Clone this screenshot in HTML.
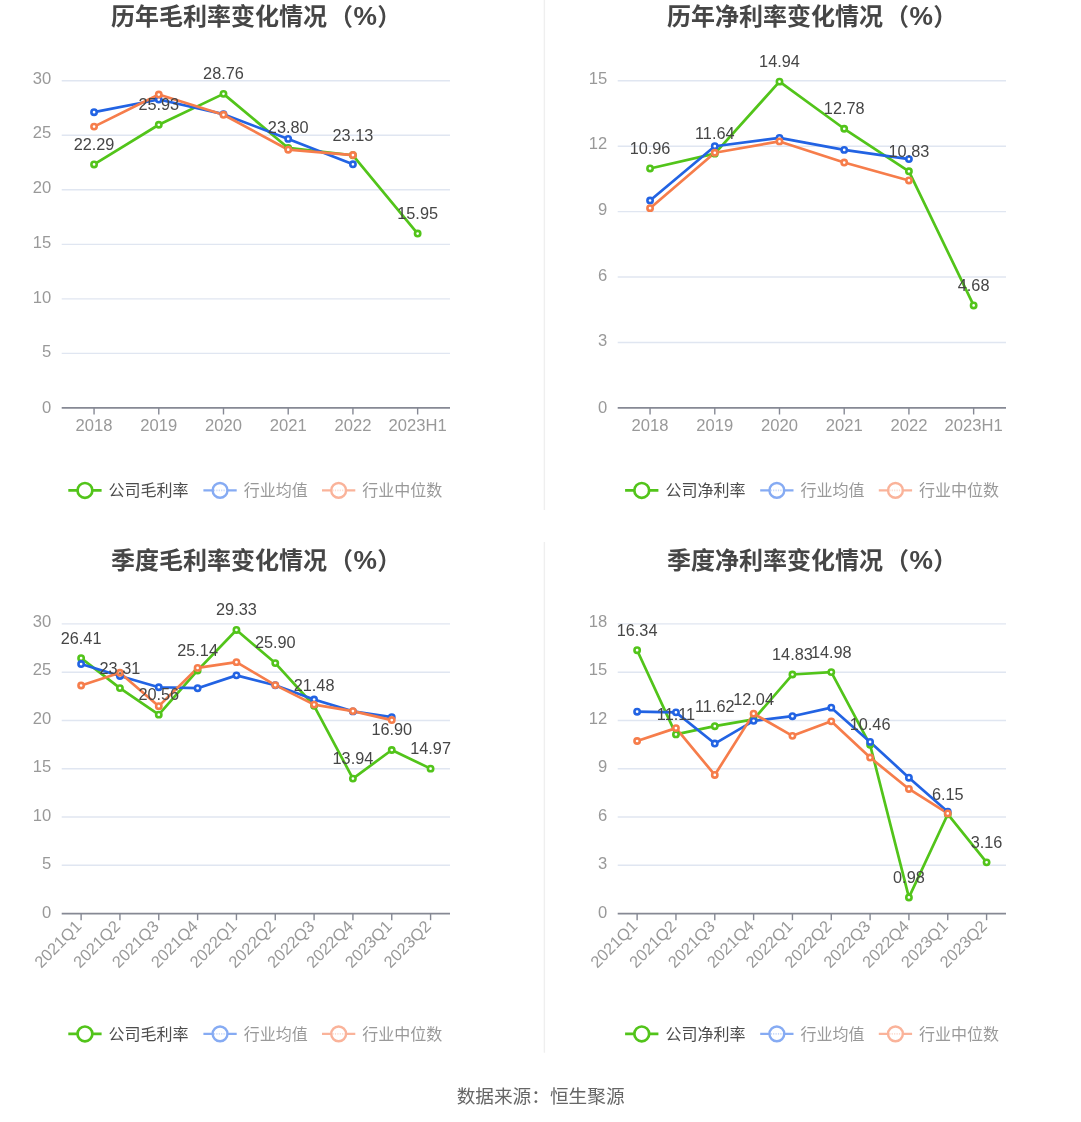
<!DOCTYPE html>
<html lang="zh-CN">
<head>
<meta charset="utf-8">
<title>毛利率与净利率变化情况</title>
<style>
html,body{margin:0;padding:0;background:#fff;}
body{width:1081px;height:1122px;overflow:hidden;font-family:"Liberation Sans", "Noto Sans CJK SC", sans-serif;}
svg{display:block;font-family:"Liberation Sans", "Noto Sans CJK SC", sans-serif;}
</style>
</head>
<body>
<svg width="1081" height="1122" viewBox="0 0 1081 1122">
<rect width="1081" height="1122" fill="#ffffff"/>
<text x="111.0" y="25.0" font-size="24" font-weight="bold" fill="#464646">历年毛利率变化情况<tspan dx="2.1">（</tspan><tspan dx="0.5" font-size="26.4">%</tspan><tspan dx="0.3" font-size="24">）</tspan></text>
<text x="51.3" y="412.60" text-anchor="end" font-size="16.6" fill="#999999">0</text>
<line x1="61.7" x2="450.0" y1="353.38" y2="353.38" stroke="#E0E6F1" stroke-width="1.4"/>
<text x="51.3" y="357.21" text-anchor="end" font-size="16.6" fill="#999999">5</text>
<line x1="61.7" x2="450.0" y1="298.85" y2="298.85" stroke="#E0E6F1" stroke-width="1.4"/>
<text x="51.3" y="302.52" text-anchor="end" font-size="16.6" fill="#999999">10</text>
<line x1="61.7" x2="450.0" y1="244.33" y2="244.33" stroke="#E0E6F1" stroke-width="1.4"/>
<text x="51.3" y="247.83" text-anchor="end" font-size="16.6" fill="#999999">15</text>
<line x1="61.7" x2="450.0" y1="189.80" y2="189.80" stroke="#E0E6F1" stroke-width="1.4"/>
<text x="51.3" y="193.13" text-anchor="end" font-size="16.6" fill="#999999">20</text>
<line x1="61.7" x2="450.0" y1="135.28" y2="135.28" stroke="#E0E6F1" stroke-width="1.4"/>
<text x="51.3" y="138.44" text-anchor="end" font-size="16.6" fill="#999999">25</text>
<line x1="61.7" x2="450.0" y1="80.75" y2="80.75" stroke="#E0E6F1" stroke-width="1.4"/>
<text x="51.3" y="83.75" text-anchor="end" font-size="16.6" fill="#999999">30</text>
<line x1="61.7" x2="450.0" y1="407.90" y2="407.90" stroke="#868994" stroke-width="1.9"/>
<line x1="94.06" x2="94.06" y1="407.90" y2="414.50" stroke="#868994" stroke-width="1.4"/>
<text x="94.06" y="430.90" text-anchor="middle" font-size="16.6" fill="#999999">2018</text>
<line x1="158.78" x2="158.78" y1="407.90" y2="414.50" stroke="#868994" stroke-width="1.4"/>
<text x="158.78" y="430.90" text-anchor="middle" font-size="16.6" fill="#999999">2019</text>
<line x1="223.49" x2="223.49" y1="407.90" y2="414.50" stroke="#868994" stroke-width="1.4"/>
<text x="223.49" y="430.90" text-anchor="middle" font-size="16.6" fill="#999999">2020</text>
<line x1="288.21" x2="288.21" y1="407.90" y2="414.50" stroke="#868994" stroke-width="1.4"/>
<text x="288.21" y="430.90" text-anchor="middle" font-size="16.6" fill="#999999">2021</text>
<line x1="352.93" x2="352.93" y1="407.90" y2="414.50" stroke="#868994" stroke-width="1.4"/>
<text x="352.93" y="430.90" text-anchor="middle" font-size="16.6" fill="#999999">2022</text>
<line x1="417.64" x2="417.64" y1="407.90" y2="414.50" stroke="#868994" stroke-width="1.4"/>
<text x="417.64" y="430.90" text-anchor="middle" font-size="16.6" fill="#999999">2023H1</text>
<polyline points="94.06,164.43 158.78,124.73 223.49,93.87 288.21,147.96 352.93,155.27 417.64,233.57" fill="none" stroke="#52C41A" stroke-width="2.7" stroke-linejoin="bevel"/>
<polyline points="94.06,112.19 158.78,99.54 223.49,114.16 288.21,138.91 352.93,164.32" fill="none" stroke="#2263E3" stroke-width="2.7" stroke-linejoin="bevel"/>
<polyline points="94.06,126.59 158.78,94.53 223.49,114.81 288.21,149.71 352.93,155.05" fill="none" stroke="#F67D4B" stroke-width="2.7" stroke-linejoin="bevel"/>
<circle cx="94.06" cy="164.43" r="2.65" fill="#fff" stroke="#52C41A" stroke-width="2.6"/>
<circle cx="158.78" cy="124.73" r="2.65" fill="#fff" stroke="#52C41A" stroke-width="2.6"/>
<circle cx="223.49" cy="93.87" r="2.65" fill="#fff" stroke="#52C41A" stroke-width="2.6"/>
<circle cx="288.21" cy="147.96" r="2.65" fill="#fff" stroke="#52C41A" stroke-width="2.6"/>
<circle cx="352.93" cy="155.27" r="2.65" fill="#fff" stroke="#52C41A" stroke-width="2.6"/>
<circle cx="417.64" cy="233.57" r="2.65" fill="#fff" stroke="#52C41A" stroke-width="2.6"/>
<circle cx="94.06" cy="112.19" r="2.65" fill="#fff" stroke="#2263E3" stroke-width="2.6"/>
<circle cx="158.78" cy="99.54" r="2.65" fill="#fff" stroke="#2263E3" stroke-width="2.6"/>
<circle cx="223.49" cy="114.16" r="2.65" fill="#fff" stroke="#2263E3" stroke-width="2.6"/>
<circle cx="288.21" cy="138.91" r="2.65" fill="#fff" stroke="#2263E3" stroke-width="2.6"/>
<circle cx="352.93" cy="164.32" r="2.65" fill="#fff" stroke="#2263E3" stroke-width="2.6"/>
<circle cx="94.06" cy="126.59" r="2.65" fill="#fff" stroke="#F67D4B" stroke-width="2.6"/>
<circle cx="158.78" cy="94.53" r="2.65" fill="#fff" stroke="#F67D4B" stroke-width="2.6"/>
<circle cx="223.49" cy="114.81" r="2.65" fill="#fff" stroke="#F67D4B" stroke-width="2.6"/>
<circle cx="288.21" cy="149.71" r="2.65" fill="#fff" stroke="#F67D4B" stroke-width="2.6"/>
<circle cx="352.93" cy="155.05" r="2.65" fill="#fff" stroke="#F67D4B" stroke-width="2.6"/>
<text x="94.06" y="149.83" text-anchor="middle" font-size="16.3" fill="#464646">22.29</text>
<text x="158.78" y="110.13" text-anchor="middle" font-size="16.3" fill="#464646">25.93</text>
<text x="223.49" y="79.27" text-anchor="middle" font-size="16.3" fill="#464646">28.76</text>
<text x="288.21" y="133.36" text-anchor="middle" font-size="16.3" fill="#464646">23.80</text>
<text x="352.93" y="140.67" text-anchor="middle" font-size="16.3" fill="#464646">23.13</text>
<text x="417.64" y="218.97" text-anchor="middle" font-size="16.3" fill="#464646">15.95</text>
<line x1="68.3" x2="101.6" y1="490.4" y2="490.4" stroke="#52C41A" stroke-width="2.7"/>
<circle cx="84.95" cy="490.4" r="7.4" fill="#fff" stroke="#52C41A" stroke-width="2.7"/>
<text x="108.6" y="496.1" font-size="16" fill="#4d4d4d">公司毛利率</text>
<line x1="203.4" x2="236.7" y1="490.4" y2="490.4" stroke="#86ABF3" stroke-width="2.4"/>
<circle cx="220.05" cy="490.4" r="7.4" fill="#fff" stroke="#86ABF3" stroke-width="2.4"/>
<line x1="213.9" x2="226.2" y1="490.4" y2="490.4" stroke="#86ABF3" stroke-width="1.6" stroke-dasharray="1.2 1.2" opacity="0.45"/>
<text x="243.7" y="496.1" font-size="16" fill="#999999">行业均值</text>
<line x1="322.0" x2="355.3" y1="490.4" y2="490.4" stroke="#FAB39A" stroke-width="2.4"/>
<circle cx="338.65" cy="490.4" r="7.4" fill="#fff" stroke="#FAB39A" stroke-width="2.4"/>
<line x1="332.5" x2="344.8" y1="490.4" y2="490.4" stroke="#FAB39A" stroke-width="1.6" stroke-dasharray="1.2 1.2" opacity="0.45"/>
<text x="362.2" y="496.1" font-size="16" fill="#999999">行业中位数</text>
<text x="667.0" y="25.0" font-size="24" font-weight="bold" fill="#464646">历年净利率变化情况<tspan dx="2.1">（</tspan><tspan dx="0.5" font-size="26.4">%</tspan><tspan dx="0.3" font-size="24">）</tspan></text>
<text x="607.3" y="412.60" text-anchor="end" font-size="16.6" fill="#999999">0</text>
<line x1="617.7" x2="1006.0" y1="342.47" y2="342.47" stroke="#E0E6F1" stroke-width="1.4"/>
<text x="607.3" y="346.27" text-anchor="end" font-size="16.6" fill="#999999">3</text>
<line x1="617.7" x2="1006.0" y1="277.04" y2="277.04" stroke="#E0E6F1" stroke-width="1.4"/>
<text x="607.3" y="280.64" text-anchor="end" font-size="16.6" fill="#999999">6</text>
<line x1="617.7" x2="1006.0" y1="211.61" y2="211.61" stroke="#E0E6F1" stroke-width="1.4"/>
<text x="607.3" y="215.01" text-anchor="end" font-size="16.6" fill="#999999">9</text>
<line x1="617.7" x2="1006.0" y1="146.18" y2="146.18" stroke="#E0E6F1" stroke-width="1.4"/>
<text x="607.3" y="149.38" text-anchor="end" font-size="16.6" fill="#999999">12</text>
<line x1="617.7" x2="1006.0" y1="80.75" y2="80.75" stroke="#E0E6F1" stroke-width="1.4"/>
<text x="607.3" y="83.75" text-anchor="end" font-size="16.6" fill="#999999">15</text>
<line x1="617.7" x2="1006.0" y1="407.90" y2="407.90" stroke="#868994" stroke-width="1.9"/>
<line x1="650.06" x2="650.06" y1="407.90" y2="414.50" stroke="#868994" stroke-width="1.4"/>
<text x="650.06" y="430.90" text-anchor="middle" font-size="16.6" fill="#999999">2018</text>
<line x1="714.78" x2="714.78" y1="407.90" y2="414.50" stroke="#868994" stroke-width="1.4"/>
<text x="714.78" y="430.90" text-anchor="middle" font-size="16.6" fill="#999999">2019</text>
<line x1="779.49" x2="779.49" y1="407.90" y2="414.50" stroke="#868994" stroke-width="1.4"/>
<text x="779.49" y="430.90" text-anchor="middle" font-size="16.6" fill="#999999">2020</text>
<line x1="844.21" x2="844.21" y1="407.90" y2="414.50" stroke="#868994" stroke-width="1.4"/>
<text x="844.21" y="430.90" text-anchor="middle" font-size="16.6" fill="#999999">2021</text>
<line x1="908.92" x2="908.92" y1="407.90" y2="414.50" stroke="#868994" stroke-width="1.4"/>
<text x="908.92" y="430.90" text-anchor="middle" font-size="16.6" fill="#999999">2022</text>
<line x1="973.64" x2="973.64" y1="407.90" y2="414.50" stroke="#868994" stroke-width="1.4"/>
<text x="973.64" y="430.90" text-anchor="middle" font-size="16.6" fill="#999999">2023H1</text>
<polyline points="650.06,168.46 714.78,153.63 779.49,81.66 844.21,128.77 908.92,171.30 973.64,305.43" fill="none" stroke="#52C41A" stroke-width="2.7" stroke-linejoin="bevel"/>
<polyline points="650.06,200.52 714.78,146.22 779.49,137.93 844.21,149.92 908.92,159.08" fill="none" stroke="#2263E3" stroke-width="2.7" stroke-linejoin="bevel"/>
<polyline points="650.06,208.16 714.78,152.76 779.49,141.42 844.21,162.57 908.92,180.46" fill="none" stroke="#F67D4B" stroke-width="2.7" stroke-linejoin="bevel"/>
<circle cx="650.06" cy="168.46" r="2.65" fill="#fff" stroke="#52C41A" stroke-width="2.6"/>
<circle cx="714.78" cy="153.63" r="2.65" fill="#fff" stroke="#52C41A" stroke-width="2.6"/>
<circle cx="779.49" cy="81.66" r="2.65" fill="#fff" stroke="#52C41A" stroke-width="2.6"/>
<circle cx="844.21" cy="128.77" r="2.65" fill="#fff" stroke="#52C41A" stroke-width="2.6"/>
<circle cx="908.92" cy="171.30" r="2.65" fill="#fff" stroke="#52C41A" stroke-width="2.6"/>
<circle cx="973.64" cy="305.43" r="2.65" fill="#fff" stroke="#52C41A" stroke-width="2.6"/>
<circle cx="650.06" cy="200.52" r="2.65" fill="#fff" stroke="#2263E3" stroke-width="2.6"/>
<circle cx="714.78" cy="146.22" r="2.65" fill="#fff" stroke="#2263E3" stroke-width="2.6"/>
<circle cx="779.49" cy="137.93" r="2.65" fill="#fff" stroke="#2263E3" stroke-width="2.6"/>
<circle cx="844.21" cy="149.92" r="2.65" fill="#fff" stroke="#2263E3" stroke-width="2.6"/>
<circle cx="908.92" cy="159.08" r="2.65" fill="#fff" stroke="#2263E3" stroke-width="2.6"/>
<circle cx="650.06" cy="208.16" r="2.65" fill="#fff" stroke="#F67D4B" stroke-width="2.6"/>
<circle cx="714.78" cy="152.76" r="2.65" fill="#fff" stroke="#F67D4B" stroke-width="2.6"/>
<circle cx="779.49" cy="141.42" r="2.65" fill="#fff" stroke="#F67D4B" stroke-width="2.6"/>
<circle cx="844.21" cy="162.57" r="2.65" fill="#fff" stroke="#F67D4B" stroke-width="2.6"/>
<circle cx="908.92" cy="180.46" r="2.65" fill="#fff" stroke="#F67D4B" stroke-width="2.6"/>
<text x="650.06" y="153.86" text-anchor="middle" font-size="16.3" fill="#464646">10.96</text>
<text x="714.78" y="139.03" text-anchor="middle" font-size="16.3" fill="#464646">11.64</text>
<text x="779.49" y="67.06" text-anchor="middle" font-size="16.3" fill="#464646">14.94</text>
<text x="844.21" y="114.17" text-anchor="middle" font-size="16.3" fill="#464646">12.78</text>
<text x="908.92" y="156.70" text-anchor="middle" font-size="16.3" fill="#464646">10.83</text>
<text x="973.64" y="290.83" text-anchor="middle" font-size="16.3" fill="#464646">4.68</text>
<line x1="625.1" x2="658.4" y1="490.4" y2="490.4" stroke="#52C41A" stroke-width="2.7"/>
<circle cx="641.75" cy="490.4" r="7.4" fill="#fff" stroke="#52C41A" stroke-width="2.7"/>
<text x="665.4" y="496.1" font-size="16" fill="#4d4d4d">公司净利率</text>
<line x1="760.2" x2="793.5" y1="490.4" y2="490.4" stroke="#86ABF3" stroke-width="2.4"/>
<circle cx="776.85" cy="490.4" r="7.4" fill="#fff" stroke="#86ABF3" stroke-width="2.4"/>
<line x1="770.7" x2="783.0" y1="490.4" y2="490.4" stroke="#86ABF3" stroke-width="1.6" stroke-dasharray="1.2 1.2" opacity="0.45"/>
<text x="800.5" y="496.1" font-size="16" fill="#999999">行业均值</text>
<line x1="878.8" x2="912.1" y1="490.4" y2="490.4" stroke="#FAB39A" stroke-width="2.4"/>
<circle cx="895.45" cy="490.4" r="7.4" fill="#fff" stroke="#FAB39A" stroke-width="2.4"/>
<line x1="889.3" x2="901.6" y1="490.4" y2="490.4" stroke="#FAB39A" stroke-width="1.6" stroke-dasharray="1.2 1.2" opacity="0.45"/>
<text x="919.0" y="496.1" font-size="16" fill="#999999">行业中位数</text>
<text x="111.0" y="568.5" font-size="24" font-weight="bold" fill="#464646">季度毛利率变化情况<tspan dx="2.1">（</tspan><tspan dx="0.5" font-size="26.4">%</tspan><tspan dx="0.3" font-size="24">）</tspan></text>
<text x="51.3" y="918.30" text-anchor="end" font-size="16.6" fill="#999999">0</text>
<line x1="61.7" x2="450.0" y1="865.32" y2="865.32" stroke="#E0E6F1" stroke-width="1.4"/>
<text x="51.3" y="869.15" text-anchor="end" font-size="16.6" fill="#999999">5</text>
<line x1="61.7" x2="450.0" y1="817.03" y2="817.03" stroke="#E0E6F1" stroke-width="1.4"/>
<text x="51.3" y="820.70" text-anchor="end" font-size="16.6" fill="#999999">10</text>
<line x1="61.7" x2="450.0" y1="768.75" y2="768.75" stroke="#E0E6F1" stroke-width="1.4"/>
<text x="51.3" y="772.25" text-anchor="end" font-size="16.6" fill="#999999">15</text>
<line x1="61.7" x2="450.0" y1="720.47" y2="720.47" stroke="#E0E6F1" stroke-width="1.4"/>
<text x="51.3" y="723.80" text-anchor="end" font-size="16.6" fill="#999999">20</text>
<line x1="61.7" x2="450.0" y1="672.18" y2="672.18" stroke="#E0E6F1" stroke-width="1.4"/>
<text x="51.3" y="675.35" text-anchor="end" font-size="16.6" fill="#999999">25</text>
<line x1="61.7" x2="450.0" y1="623.90" y2="623.90" stroke="#E0E6F1" stroke-width="1.4"/>
<text x="51.3" y="626.90" text-anchor="end" font-size="16.6" fill="#999999">30</text>
<line x1="61.7" x2="450.0" y1="913.60" y2="913.60" stroke="#868994" stroke-width="1.9"/>
<line x1="81.12" x2="81.12" y1="913.60" y2="920.20" stroke="#868994" stroke-width="1.4"/>
<text transform="translate(79.57,924.60) rotate(-45)" text-anchor="end" font-size="16.4" fill="#999999" dy="4.0">2021Q1</text>
<line x1="119.94" x2="119.94" y1="913.60" y2="920.20" stroke="#868994" stroke-width="1.4"/>
<text transform="translate(118.39,924.60) rotate(-45)" text-anchor="end" font-size="16.4" fill="#999999" dy="4.0">2021Q2</text>
<line x1="158.77" x2="158.77" y1="913.60" y2="920.20" stroke="#868994" stroke-width="1.4"/>
<text transform="translate(157.22,924.60) rotate(-45)" text-anchor="end" font-size="16.4" fill="#999999" dy="4.0">2021Q3</text>
<line x1="197.61" x2="197.61" y1="913.60" y2="920.20" stroke="#868994" stroke-width="1.4"/>
<text transform="translate(196.06,924.60) rotate(-45)" text-anchor="end" font-size="16.4" fill="#999999" dy="4.0">2021Q4</text>
<line x1="236.44" x2="236.44" y1="913.60" y2="920.20" stroke="#868994" stroke-width="1.4"/>
<text transform="translate(234.88,924.60) rotate(-45)" text-anchor="end" font-size="16.4" fill="#999999" dy="4.0">2022Q1</text>
<line x1="275.26" x2="275.26" y1="913.60" y2="920.20" stroke="#868994" stroke-width="1.4"/>
<text transform="translate(273.71,924.60) rotate(-45)" text-anchor="end" font-size="16.4" fill="#999999" dy="4.0">2022Q2</text>
<line x1="314.09" x2="314.09" y1="913.60" y2="920.20" stroke="#868994" stroke-width="1.4"/>
<text transform="translate(312.54,924.60) rotate(-45)" text-anchor="end" font-size="16.4" fill="#999999" dy="4.0">2022Q3</text>
<line x1="352.92" x2="352.92" y1="913.60" y2="920.20" stroke="#868994" stroke-width="1.4"/>
<text transform="translate(351.37,924.60) rotate(-45)" text-anchor="end" font-size="16.4" fill="#999999" dy="4.0">2022Q4</text>
<line x1="391.75" x2="391.75" y1="913.60" y2="920.20" stroke="#868994" stroke-width="1.4"/>
<text transform="translate(390.20,924.60) rotate(-45)" text-anchor="end" font-size="16.4" fill="#999999" dy="4.0">2023Q1</text>
<line x1="430.58" x2="430.58" y1="913.60" y2="920.20" stroke="#868994" stroke-width="1.4"/>
<text transform="translate(429.03,924.60) rotate(-45)" text-anchor="end" font-size="16.4" fill="#999999" dy="4.0">2023Q2</text>
<polyline points="81.12,658.17 119.94,688.10 158.77,714.66 197.61,670.43 236.44,629.97 275.26,663.09 314.09,705.77 352.92,778.59 391.75,750.00 430.58,768.64" fill="none" stroke="#52C41A" stroke-width="2.7" stroke-linejoin="bevel"/>
<polyline points="81.12,664.06 119.94,675.94 158.77,687.23 197.61,688.20 236.44,675.36 275.26,685.30 314.09,699.50 352.92,711.38 391.75,717.17" fill="none" stroke="#2263E3" stroke-width="2.7" stroke-linejoin="bevel"/>
<polyline points="81.12,685.50 119.94,672.75 158.77,706.16 197.61,667.92 236.44,662.13 275.26,685.11 314.09,704.62 352.92,711.09 391.75,720.07" fill="none" stroke="#F67D4B" stroke-width="2.7" stroke-linejoin="bevel"/>
<circle cx="81.12" cy="658.17" r="2.65" fill="#fff" stroke="#52C41A" stroke-width="2.6"/>
<circle cx="119.94" cy="688.10" r="2.65" fill="#fff" stroke="#52C41A" stroke-width="2.6"/>
<circle cx="158.77" cy="714.66" r="2.65" fill="#fff" stroke="#52C41A" stroke-width="2.6"/>
<circle cx="197.61" cy="670.43" r="2.65" fill="#fff" stroke="#52C41A" stroke-width="2.6"/>
<circle cx="236.44" cy="629.97" r="2.65" fill="#fff" stroke="#52C41A" stroke-width="2.6"/>
<circle cx="275.26" cy="663.09" r="2.65" fill="#fff" stroke="#52C41A" stroke-width="2.6"/>
<circle cx="314.09" cy="705.77" r="2.65" fill="#fff" stroke="#52C41A" stroke-width="2.6"/>
<circle cx="352.92" cy="778.59" r="2.65" fill="#fff" stroke="#52C41A" stroke-width="2.6"/>
<circle cx="391.75" cy="750.00" r="2.65" fill="#fff" stroke="#52C41A" stroke-width="2.6"/>
<circle cx="430.58" cy="768.64" r="2.65" fill="#fff" stroke="#52C41A" stroke-width="2.6"/>
<circle cx="81.12" cy="664.06" r="2.65" fill="#fff" stroke="#2263E3" stroke-width="2.6"/>
<circle cx="119.94" cy="675.94" r="2.65" fill="#fff" stroke="#2263E3" stroke-width="2.6"/>
<circle cx="158.77" cy="687.23" r="2.65" fill="#fff" stroke="#2263E3" stroke-width="2.6"/>
<circle cx="197.61" cy="688.20" r="2.65" fill="#fff" stroke="#2263E3" stroke-width="2.6"/>
<circle cx="236.44" cy="675.36" r="2.65" fill="#fff" stroke="#2263E3" stroke-width="2.6"/>
<circle cx="275.26" cy="685.30" r="2.65" fill="#fff" stroke="#2263E3" stroke-width="2.6"/>
<circle cx="314.09" cy="699.50" r="2.65" fill="#fff" stroke="#2263E3" stroke-width="2.6"/>
<circle cx="352.92" cy="711.38" r="2.65" fill="#fff" stroke="#2263E3" stroke-width="2.6"/>
<circle cx="391.75" cy="717.17" r="2.65" fill="#fff" stroke="#2263E3" stroke-width="2.6"/>
<circle cx="81.12" cy="685.50" r="2.65" fill="#fff" stroke="#F67D4B" stroke-width="2.6"/>
<circle cx="119.94" cy="672.75" r="2.65" fill="#fff" stroke="#F67D4B" stroke-width="2.6"/>
<circle cx="158.77" cy="706.16" r="2.65" fill="#fff" stroke="#F67D4B" stroke-width="2.6"/>
<circle cx="197.61" cy="667.92" r="2.65" fill="#fff" stroke="#F67D4B" stroke-width="2.6"/>
<circle cx="236.44" cy="662.13" r="2.65" fill="#fff" stroke="#F67D4B" stroke-width="2.6"/>
<circle cx="275.26" cy="685.11" r="2.65" fill="#fff" stroke="#F67D4B" stroke-width="2.6"/>
<circle cx="314.09" cy="704.62" r="2.65" fill="#fff" stroke="#F67D4B" stroke-width="2.6"/>
<circle cx="352.92" cy="711.09" r="2.65" fill="#fff" stroke="#F67D4B" stroke-width="2.6"/>
<circle cx="391.75" cy="720.07" r="2.65" fill="#fff" stroke="#F67D4B" stroke-width="2.6"/>
<text x="81.12" y="643.57" text-anchor="middle" font-size="16.3" fill="#464646">26.41</text>
<text x="119.94" y="673.50" text-anchor="middle" font-size="16.3" fill="#464646">23.31</text>
<text x="158.77" y="700.06" text-anchor="middle" font-size="16.3" fill="#464646">20.56</text>
<text x="197.61" y="655.83" text-anchor="middle" font-size="16.3" fill="#464646">25.14</text>
<text x="236.44" y="615.37" text-anchor="middle" font-size="16.3" fill="#464646">29.33</text>
<text x="275.26" y="648.49" text-anchor="middle" font-size="16.3" fill="#464646">25.90</text>
<text x="314.09" y="691.17" text-anchor="middle" font-size="16.3" fill="#464646">21.48</text>
<text x="352.92" y="763.99" text-anchor="middle" font-size="16.3" fill="#464646">13.94</text>
<text x="391.75" y="735.40" text-anchor="middle" font-size="16.3" fill="#464646">16.90</text>
<text x="430.58" y="754.04" text-anchor="middle" font-size="16.3" fill="#464646">14.97</text>
<line x1="68.3" x2="101.6" y1="1033.9" y2="1033.9" stroke="#52C41A" stroke-width="2.7"/>
<circle cx="84.95" cy="1033.9" r="7.4" fill="#fff" stroke="#52C41A" stroke-width="2.7"/>
<text x="108.6" y="1039.6" font-size="16" fill="#4d4d4d">公司毛利率</text>
<line x1="203.4" x2="236.7" y1="1033.9" y2="1033.9" stroke="#86ABF3" stroke-width="2.4"/>
<circle cx="220.05" cy="1033.9" r="7.4" fill="#fff" stroke="#86ABF3" stroke-width="2.4"/>
<line x1="213.9" x2="226.2" y1="1033.9" y2="1033.9" stroke="#86ABF3" stroke-width="1.6" stroke-dasharray="1.2 1.2" opacity="0.45"/>
<text x="243.7" y="1039.6" font-size="16" fill="#999999">行业均值</text>
<line x1="322.0" x2="355.3" y1="1033.9" y2="1033.9" stroke="#FAB39A" stroke-width="2.4"/>
<circle cx="338.65" cy="1033.9" r="7.4" fill="#fff" stroke="#FAB39A" stroke-width="2.4"/>
<line x1="332.5" x2="344.8" y1="1033.9" y2="1033.9" stroke="#FAB39A" stroke-width="1.6" stroke-dasharray="1.2 1.2" opacity="0.45"/>
<text x="362.2" y="1039.6" font-size="16" fill="#999999">行业中位数</text>
<text x="667.0" y="568.5" font-size="24" font-weight="bold" fill="#464646">季度净利率变化情况<tspan dx="2.1">（</tspan><tspan dx="0.5" font-size="26.4">%</tspan><tspan dx="0.3" font-size="24">）</tspan></text>
<text x="607.3" y="918.30" text-anchor="end" font-size="16.6" fill="#999999">0</text>
<line x1="617.7" x2="1006.0" y1="865.32" y2="865.32" stroke="#E0E6F1" stroke-width="1.4"/>
<text x="607.3" y="869.15" text-anchor="end" font-size="16.6" fill="#999999">3</text>
<line x1="617.7" x2="1006.0" y1="817.03" y2="817.03" stroke="#E0E6F1" stroke-width="1.4"/>
<text x="607.3" y="820.70" text-anchor="end" font-size="16.6" fill="#999999">6</text>
<line x1="617.7" x2="1006.0" y1="768.75" y2="768.75" stroke="#E0E6F1" stroke-width="1.4"/>
<text x="607.3" y="772.25" text-anchor="end" font-size="16.6" fill="#999999">9</text>
<line x1="617.7" x2="1006.0" y1="720.47" y2="720.47" stroke="#E0E6F1" stroke-width="1.4"/>
<text x="607.3" y="723.80" text-anchor="end" font-size="16.6" fill="#999999">12</text>
<line x1="617.7" x2="1006.0" y1="672.18" y2="672.18" stroke="#E0E6F1" stroke-width="1.4"/>
<text x="607.3" y="675.35" text-anchor="end" font-size="16.6" fill="#999999">15</text>
<line x1="617.7" x2="1006.0" y1="623.90" y2="623.90" stroke="#E0E6F1" stroke-width="1.4"/>
<text x="607.3" y="626.90" text-anchor="end" font-size="16.6" fill="#999999">18</text>
<line x1="617.7" x2="1006.0" y1="913.60" y2="913.60" stroke="#868994" stroke-width="1.9"/>
<line x1="637.12" x2="637.12" y1="913.60" y2="920.20" stroke="#868994" stroke-width="1.4"/>
<text transform="translate(635.57,924.60) rotate(-45)" text-anchor="end" font-size="16.4" fill="#999999" dy="4.0">2021Q1</text>
<line x1="675.95" x2="675.95" y1="913.60" y2="920.20" stroke="#868994" stroke-width="1.4"/>
<text transform="translate(674.40,924.60) rotate(-45)" text-anchor="end" font-size="16.4" fill="#999999" dy="4.0">2021Q2</text>
<line x1="714.78" x2="714.78" y1="913.60" y2="920.20" stroke="#868994" stroke-width="1.4"/>
<text transform="translate(713.23,924.60) rotate(-45)" text-anchor="end" font-size="16.4" fill="#999999" dy="4.0">2021Q3</text>
<line x1="753.61" x2="753.61" y1="913.60" y2="920.20" stroke="#868994" stroke-width="1.4"/>
<text transform="translate(752.06,924.60) rotate(-45)" text-anchor="end" font-size="16.4" fill="#999999" dy="4.0">2021Q4</text>
<line x1="792.44" x2="792.44" y1="913.60" y2="920.20" stroke="#868994" stroke-width="1.4"/>
<text transform="translate(790.89,924.60) rotate(-45)" text-anchor="end" font-size="16.4" fill="#999999" dy="4.0">2022Q1</text>
<line x1="831.27" x2="831.27" y1="913.60" y2="920.20" stroke="#868994" stroke-width="1.4"/>
<text transform="translate(829.72,924.60) rotate(-45)" text-anchor="end" font-size="16.4" fill="#999999" dy="4.0">2022Q2</text>
<line x1="870.10" x2="870.10" y1="913.60" y2="920.20" stroke="#868994" stroke-width="1.4"/>
<text transform="translate(868.55,924.60) rotate(-45)" text-anchor="end" font-size="16.4" fill="#999999" dy="4.0">2022Q3</text>
<line x1="908.92" x2="908.92" y1="913.60" y2="920.20" stroke="#868994" stroke-width="1.4"/>
<text transform="translate(907.38,924.60) rotate(-45)" text-anchor="end" font-size="16.4" fill="#999999" dy="4.0">2022Q4</text>
<line x1="947.76" x2="947.76" y1="913.60" y2="920.20" stroke="#868994" stroke-width="1.4"/>
<text transform="translate(946.21,924.60) rotate(-45)" text-anchor="end" font-size="16.4" fill="#999999" dy="4.0">2023Q1</text>
<line x1="986.59" x2="986.59" y1="913.60" y2="920.20" stroke="#868994" stroke-width="1.4"/>
<text transform="translate(985.04,924.60) rotate(-45)" text-anchor="end" font-size="16.4" fill="#999999" dy="4.0">2023Q2</text>
<polyline points="637.12,650.22 675.95,734.39 714.78,726.18 753.61,719.42 792.44,674.52 831.27,672.11 870.10,744.85 908.92,897.43 947.76,814.22 986.59,862.34" fill="none" stroke="#52C41A" stroke-width="2.7" stroke-linejoin="bevel"/>
<polyline points="637.12,711.70 675.95,712.34 714.78,743.56 753.61,720.87 792.44,716.20 831.27,707.67 870.10,741.96 908.92,777.68 947.76,811.81" fill="none" stroke="#2263E3" stroke-width="2.7" stroke-linejoin="bevel"/>
<polyline points="637.12,740.99 675.95,728.11 714.78,774.95 753.61,713.63 792.44,735.84 831.27,721.35 870.10,757.57 908.92,788.95 947.76,813.41" fill="none" stroke="#F67D4B" stroke-width="2.7" stroke-linejoin="bevel"/>
<circle cx="637.12" cy="650.22" r="2.65" fill="#fff" stroke="#52C41A" stroke-width="2.6"/>
<circle cx="675.95" cy="734.39" r="2.65" fill="#fff" stroke="#52C41A" stroke-width="2.6"/>
<circle cx="714.78" cy="726.18" r="2.65" fill="#fff" stroke="#52C41A" stroke-width="2.6"/>
<circle cx="753.61" cy="719.42" r="2.65" fill="#fff" stroke="#52C41A" stroke-width="2.6"/>
<circle cx="792.44" cy="674.52" r="2.65" fill="#fff" stroke="#52C41A" stroke-width="2.6"/>
<circle cx="831.27" cy="672.11" r="2.65" fill="#fff" stroke="#52C41A" stroke-width="2.6"/>
<circle cx="870.10" cy="744.85" r="2.65" fill="#fff" stroke="#52C41A" stroke-width="2.6"/>
<circle cx="908.92" cy="897.43" r="2.65" fill="#fff" stroke="#52C41A" stroke-width="2.6"/>
<circle cx="947.76" cy="814.22" r="2.65" fill="#fff" stroke="#52C41A" stroke-width="2.6"/>
<circle cx="986.59" cy="862.34" r="2.65" fill="#fff" stroke="#52C41A" stroke-width="2.6"/>
<circle cx="637.12" cy="711.70" r="2.65" fill="#fff" stroke="#2263E3" stroke-width="2.6"/>
<circle cx="675.95" cy="712.34" r="2.65" fill="#fff" stroke="#2263E3" stroke-width="2.6"/>
<circle cx="714.78" cy="743.56" r="2.65" fill="#fff" stroke="#2263E3" stroke-width="2.6"/>
<circle cx="753.61" cy="720.87" r="2.65" fill="#fff" stroke="#2263E3" stroke-width="2.6"/>
<circle cx="792.44" cy="716.20" r="2.65" fill="#fff" stroke="#2263E3" stroke-width="2.6"/>
<circle cx="831.27" cy="707.67" r="2.65" fill="#fff" stroke="#2263E3" stroke-width="2.6"/>
<circle cx="870.10" cy="741.96" r="2.65" fill="#fff" stroke="#2263E3" stroke-width="2.6"/>
<circle cx="908.92" cy="777.68" r="2.65" fill="#fff" stroke="#2263E3" stroke-width="2.6"/>
<circle cx="947.76" cy="811.81" r="2.65" fill="#fff" stroke="#2263E3" stroke-width="2.6"/>
<circle cx="637.12" cy="740.99" r="2.65" fill="#fff" stroke="#F67D4B" stroke-width="2.6"/>
<circle cx="675.95" cy="728.11" r="2.65" fill="#fff" stroke="#F67D4B" stroke-width="2.6"/>
<circle cx="714.78" cy="774.95" r="2.65" fill="#fff" stroke="#F67D4B" stroke-width="2.6"/>
<circle cx="753.61" cy="713.63" r="2.65" fill="#fff" stroke="#F67D4B" stroke-width="2.6"/>
<circle cx="792.44" cy="735.84" r="2.65" fill="#fff" stroke="#F67D4B" stroke-width="2.6"/>
<circle cx="831.27" cy="721.35" r="2.65" fill="#fff" stroke="#F67D4B" stroke-width="2.6"/>
<circle cx="870.10" cy="757.57" r="2.65" fill="#fff" stroke="#F67D4B" stroke-width="2.6"/>
<circle cx="908.92" cy="788.95" r="2.65" fill="#fff" stroke="#F67D4B" stroke-width="2.6"/>
<circle cx="947.76" cy="813.41" r="2.65" fill="#fff" stroke="#F67D4B" stroke-width="2.6"/>
<text x="637.12" y="635.62" text-anchor="middle" font-size="16.3" fill="#464646">16.34</text>
<text x="675.95" y="719.79" text-anchor="middle" font-size="16.3" fill="#464646">11.11</text>
<text x="714.78" y="711.58" text-anchor="middle" font-size="16.3" fill="#464646">11.62</text>
<text x="753.61" y="704.82" text-anchor="middle" font-size="16.3" fill="#464646">12.04</text>
<text x="792.44" y="659.92" text-anchor="middle" font-size="16.3" fill="#464646">14.83</text>
<text x="831.27" y="657.51" text-anchor="middle" font-size="16.3" fill="#464646">14.98</text>
<text x="870.10" y="730.25" text-anchor="middle" font-size="16.3" fill="#464646">10.46</text>
<text x="908.92" y="882.83" text-anchor="middle" font-size="16.3" fill="#464646">0.98</text>
<text x="947.76" y="799.62" text-anchor="middle" font-size="16.3" fill="#464646">6.15</text>
<text x="986.59" y="847.74" text-anchor="middle" font-size="16.3" fill="#464646">3.16</text>
<line x1="625.1" x2="658.4" y1="1033.9" y2="1033.9" stroke="#52C41A" stroke-width="2.7"/>
<circle cx="641.75" cy="1033.9" r="7.4" fill="#fff" stroke="#52C41A" stroke-width="2.7"/>
<text x="665.4" y="1039.6" font-size="16" fill="#4d4d4d">公司净利率</text>
<line x1="760.2" x2="793.5" y1="1033.9" y2="1033.9" stroke="#86ABF3" stroke-width="2.4"/>
<circle cx="776.85" cy="1033.9" r="7.4" fill="#fff" stroke="#86ABF3" stroke-width="2.4"/>
<line x1="770.7" x2="783.0" y1="1033.9" y2="1033.9" stroke="#86ABF3" stroke-width="1.6" stroke-dasharray="1.2 1.2" opacity="0.45"/>
<text x="800.5" y="1039.6" font-size="16" fill="#999999">行业均值</text>
<line x1="878.8" x2="912.1" y1="1033.9" y2="1033.9" stroke="#FAB39A" stroke-width="2.4"/>
<circle cx="895.45" cy="1033.9" r="7.4" fill="#fff" stroke="#FAB39A" stroke-width="2.4"/>
<line x1="889.3" x2="901.6" y1="1033.9" y2="1033.9" stroke="#FAB39A" stroke-width="1.6" stroke-dasharray="1.2 1.2" opacity="0.45"/>
<text x="919.0" y="1039.6" font-size="16" fill="#999999">行业中位数</text>
<line x1="544.4" x2="544.4" y1="0" y2="510" stroke="#EFEFEF" stroke-width="1.4"/>
<line x1="544.4" x2="544.4" y1="542" y2="1052.8" stroke="#EFEFEF" stroke-width="1.4"/>
<text x="540.6" y="1103" text-anchor="middle" font-size="18.67" fill="#666666">数据来源：恒生聚源</text>
</svg>
</body>
</html>
